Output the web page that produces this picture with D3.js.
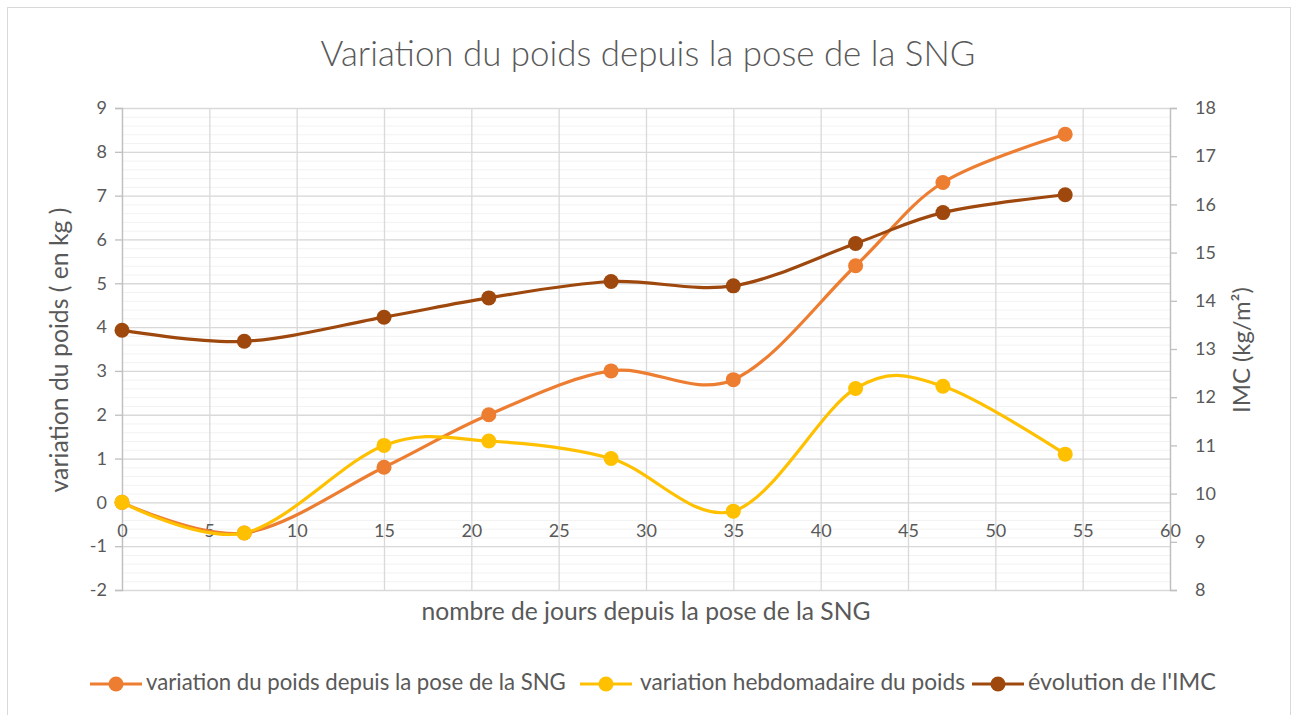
<!DOCTYPE html>
<html>
<head>
<meta charset="utf-8">
<script src="https://cdn.jsdelivr.net/npm/d3@7"></script>
<style>
  body { margin: 0; background: #fff; }
  svg { display: block; font-family: Lato, "Liberation Sans", sans-serif; }
</style>
</head>
<body>
<svg id="chart" width="1298" height="715"></svg>
<script>
// Data
const days = [0, 7, 15, 21, 28, 35, 42, 47, 54];
const poidsCumul = [0, -0.7, 0.8, 2.0, 3.0, 2.8, 5.4, 7.3, 8.4];
const poidsHebdo = [0, -0.7, 1.3, 1.4, 1.0, -0.2, 2.6, 2.65, 1.1];
const imc = [13.39, 13.16, 13.66, 14.06, 14.40, 14.31, 15.19, 15.83, 16.20];

const xTicks = d3.range(0, 61, 5);
const yLeftTicks = d3.range(-2, 10, 1);
const yRightTicks = d3.range(8, 19, 1);

const seriesNames = [
  "variation du poids depuis la pose de la SNG",
  "variation hebdomadaire du poids",
  "évolution de l'IMC"
];
const colors = ["#ED7D31", "#FFC000", "#9E480E"];

const textColor = "#595959";
const svg = d3.select("#chart");

// outer chart border
svg.append("rect")
  .attr("x", 7.5).attr("y", 7.5)
  .attr("width", 1283).attr("height", 720)
  .attr("fill", "#fff")
  .attr("stroke", "#d9d9d9");

// Plot area
const plot = {left: 122, right: 1170, top: 108, bottom: 590};

const x = d3.scaleLinear().domain([0, 60]).range([plot.left, plot.right]);
const yL = d3.scaleLinear().domain([-2, 9]).range([plot.bottom, plot.top]);
const yR = d3.scaleLinear().domain([8, 18]).range([plot.bottom, plot.top]);

// shrink/grow a text so it spans a given width
function fitText(sel, width) {
  const node = sel.node();
  const size = parseFloat(sel.attr("font-size"));
  const w = node.getComputedTextLength();
  sel.attr("font-size", (size * width / w).toFixed(2));
}

// minor gridlines (every 0.2)
svg.append("g")
  .attr("transform", `translate(${plot.left},0)`)
  .call(d3.axisLeft(yL)
    .tickValues(d3.range(-2, 9.01, 0.2))
    .tickSize(-(plot.right - plot.left))
    .tickFormat(""))
  .call(g => g.select(".domain").remove())
  .call(g => g.selectAll("line").attr("stroke", "#f2f2f2").attr("stroke-width", 1));

// major horizontal gridlines
svg.append("g")
  .attr("transform", `translate(${plot.left},0)`)
  .call(d3.axisLeft(yL)
    .tickValues(yLeftTicks)
    .tickSize(-(plot.right - plot.left))
    .tickFormat(""))
  .call(g => g.select(".domain").remove())
  .call(g => g.selectAll("line").attr("stroke", "#d9d9d9").attr("stroke-width", 1.3));

// vertical gridlines
svg.append("g")
  .attr("transform", `translate(0,${plot.bottom})`)
  .call(d3.axisBottom(x)
    .tickValues(xTicks)
    .tickSize(-(plot.bottom - plot.top))
    .tickFormat(""))
  .call(g => g.select(".domain").remove())
  .call(g => g.selectAll("line").attr("stroke", "#d9d9d9").attr("stroke-width", 1.3));

// left axis
svg.append("g")
  .attr("transform", `translate(${plot.left},0)`)
  .call(d3.axisLeft(yL).tickValues(yLeftTicks).tickSize(7).tickPadding(8).tickFormat(d3.format("d")))
  .call(g => g.select(".domain").attr("stroke", "#bfbfbf").attr("stroke-width", 1.3))
  .call(g => g.selectAll("line").attr("stroke", "#bfbfbf").attr("stroke-width", 1.3))
  .call(g => g.selectAll("text")
    .attr("fill", textColor).attr("font-size", 18)
    .attr("font-family", "Lato, sans-serif")
    .text(d => d < 0 ? "-" + Math.abs(d) : d));

// right axis
svg.append("g")
  .attr("transform", `translate(${plot.right},0)`)
  .call(d3.axisRight(yR).tickValues(yRightTicks).tickSize(7).tickPadding(18).tickFormat(d3.format("d")))
  .call(g => g.select(".domain").attr("stroke", "#bfbfbf").attr("stroke-width", 1.3))
  .call(g => g.selectAll("line").attr("stroke", "#bfbfbf").attr("stroke-width", 1.3))
  .call(g => g.selectAll("text")
    .attr("fill", textColor).attr("font-size", 18)
    .attr("font-family", "Lato, sans-serif"));

// bottom axis labels (Excel draws them below y = 0 line)
svg.append("g")
  .attr("transform", `translate(0,${yL(0)})`)
  .call(d3.axisBottom(x).tickValues(xTicks).tickSize(0).tickPadding(22))
  .call(g => g.select(".domain").remove())
  .call(g => g.selectAll("text")
    .attr("fill", textColor).attr("font-size", 18)
    .attr("font-family", "Lato, sans-serif"));

// title
svg.append("text")
  .attr("x", 648).attr("y", 66)
  .attr("text-anchor", "middle")
  .attr("fill", textColor)
  .attr("font-size", 30)
  .attr("font-weight", 300)
  .text("Variation du poids depuis la pose de la SNG")
  .call(fitText, 655);

// axis titles
svg.append("text")
  .attr("transform", "translate(68,350) rotate(-90)")
  .attr("text-anchor", "middle")
  .attr("fill", textColor)
  .attr("font-size", 20)
  .text("variation du poids ( en kg )")
  .call(fitText, 285);

svg.append("text")
  .attr("transform", "translate(1250,350) rotate(-90)")
  .attr("text-anchor", "middle")
  .attr("fill", textColor)
  .attr("font-size", 20)
  .text("IMC (kg/m²)")
  .call(fitText, 126);

svg.append("text")
  .attr("x", 646).attr("y", 620)
  .attr("text-anchor", "middle")
  .attr("fill", textColor)
  .attr("font-size", 20)
  .text("nombre de jours depuis la pose de la SNG")
  .call(fitText, 449);

// series
const series = [
  {values: poidsCumul, y: yL},
  {values: poidsHebdo, y: yL},
  {values: imc, y: yR}
];

series.forEach((s, i) => {
  const pts = days.map((d, j) => ({day: d, v: s.values[j]}));
  const line = d3.line()
    .x(d => x(d.day))
    .y(d => s.y(d.v))
    .curve(d3.curveCardinal.tension(0));

  svg.append("path")
    .datum(pts)
    .attr("fill", "none")
    .attr("stroke", colors[i])
    .attr("stroke-width", 3.2)
    .attr("stroke-linejoin", "round")
    .attr("d", line);

  svg.selectAll(".pt" + i)
    .data(pts)
    .enter()
    .append("circle")
    .attr("class", "pt" + i)
    .attr("cx", d => x(d.day))
    .attr("cy", d => s.y(d.v))
    .attr("r", 7.5)
    .attr("fill", colors[i]);
});

// legend
const legendY = 684;
const legendItems = [
  {x0: 90, tx: 146, w: 420},
  {x0: 580, tx: 640, w: 325},
  {x0: 972, tx: 1028, w: 188}
];
legendItems.forEach((it, i) => {
  svg.append("line")
    .attr("x1", it.x0).attr("x2", it.x0 + 52)
    .attr("y1", legendY).attr("y2", legendY)
    .attr("stroke", colors[i]).attr("stroke-width", 3.2);
  svg.append("circle")
    .attr("cx", it.x0 + 26).attr("cy", legendY)
    .attr("r", 7.5).attr("fill", colors[i]);
  svg.append("text")
    .attr("x", it.tx).attr("y", legendY + 6)
    .attr("fill", textColor)
    .attr("font-size", 18)
    .text(seriesNames[i])
    .call(fitText, it.w);
});
</script>
</body>
</html>
